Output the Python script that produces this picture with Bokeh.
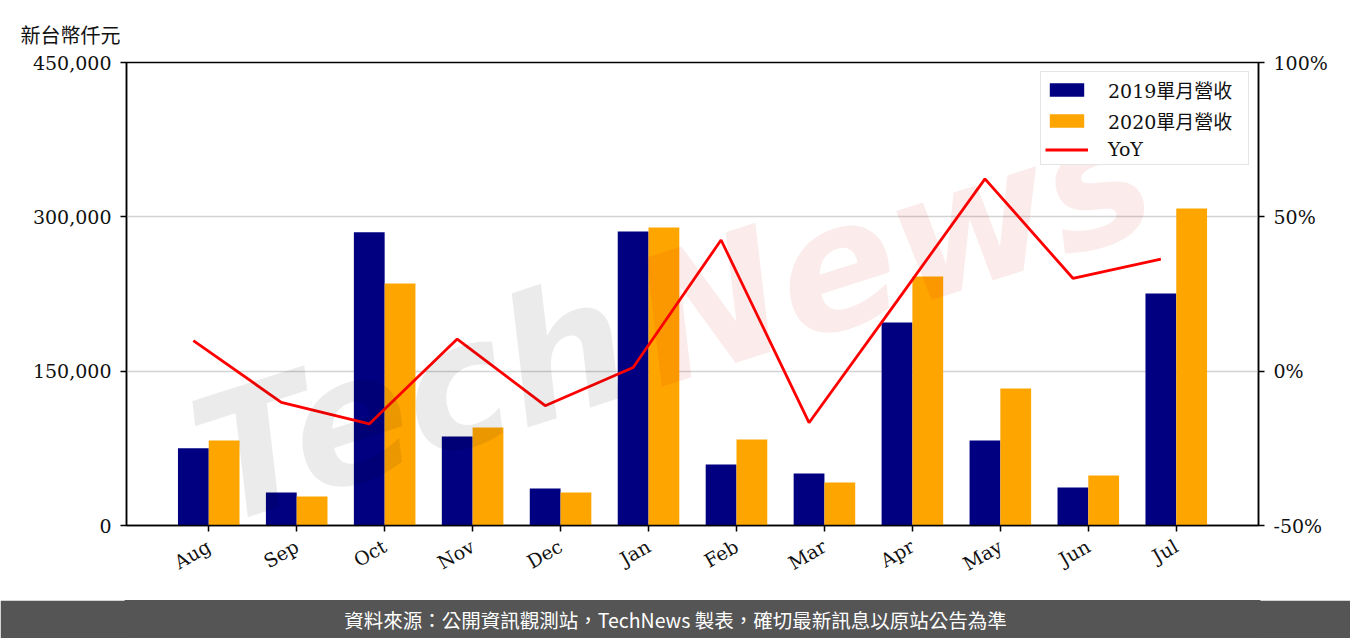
import numpy as np
from bokeh.plotting import figure
from bokeh.models import (Range1d, LinearAxis, FixedTicker, NumeralTickFormatter,
                          PrintfTickFormatter, Legend, LegendItem, ColumnDataSource)
from bokeh.layouts import column
from bokeh.core.properties import value
from bokeh.embed import file_html
from bokeh.resources import INLINE

# ---------------- data ----------------
months = ["Aug", "Sep", "Oct", "Nov", "Dec", "Jan", "Feb", "Mar", "Apr", "May", "Jun", "Jul"]
rev_2019 = [75000, 32000, 285000, 86500, 36000, 285700, 59300, 50500, 197300, 82600, 36900, 225500]
rev_2020 = [82600, 28200, 235200, 95200, 32000, 289600, 83600, 41800, 242000, 133100, 48600, 308100]
yoy_pct = [9.9, -10.1, -17.1, 10.4, -11.2, 1.2, 42.5, -16.7, 22.7, 62.3, 30.1, 36.3]
left_ticks = [0, 150000, 300000, 450000]
right_ticks = [-50, 0, 50, 100]
unit_label = "新台幣仟元"
footer_text = "資料來源：公開資訊觀測站，TechNews 製表，確切最新訊息以原站公告為準"
series_names = ["2019單月營收", "2020單月營收", "YoY"]

SERIF = "DejaVu Serif, Noto Sans CJK TC"
FS = "19px"
BAR_W = 0.35
PAGE_W = 1350
BORDER_L, BORDER_R = 126, 92
FOOTER_BG = "#555555"

idx = np.arange(len(months))
src = ColumnDataSource(dict(
    x19=idx - BAR_W / 2, x20=idx + BAR_W / 2, xl=idx - BAR_W / 2,
    r19=rev_2019, r20=rev_2020, yoy=yoy_pct))

p = figure(width=PAGE_W, height=600, output_backend="svg", toolbar_location=None,
           x_range=Range1d(-0.935, 11.935), y_range=Range1d(0, 450000),
           min_border_left=BORDER_L, min_border_right=BORDER_R, min_border_top=62, min_border_bottom=75)
p.extra_y_ranges = {"yoy": Range1d(-50, 100)}

p.title.text = unit_label
p.title.align = "left"
p.title.vertical_align = "top"
p.title.offset = -106
p.title.standoff = 25
p.title.text_font = SERIF
p.title.text_font_size = "20px"
p.title.text_font_style = "normal"
p.title.text_color = "#111111"

p.outline_line_color = "black"
p.outline_line_width = 1.5
p.xgrid.visible = False
p.ygrid.ticker = FixedTicker(ticks=left_ticks)
p.ygrid.grid_line_color = "#d3d3d3"
p.ygrid.grid_line_width = 1.5


def style_axis(ax, standoff):
    ax.axis_line_color = "black"
    ax.axis_line_width = 1.5
    ax.major_tick_line_color = "black"
    ax.major_tick_line_width = 1.5
    ax.major_tick_out = 6
    ax.major_tick_in = 0
    ax.minor_tick_line_color = None
    ax.major_label_text_font = SERIF
    ax.major_label_text_font_size = FS
    ax.major_label_text_color = "#111111"
    ax.major_label_standoff = standoff


style_axis(p.xaxis[0], 13)
style_axis(p.yaxis[0], 9)

p.yaxis.ticker = FixedTicker(ticks=left_ticks)
p.yaxis.formatter = NumeralTickFormatter(format="0,0")

p.xaxis.ticker = FixedTicker(ticks=list(idx))
p.xaxis.major_label_overrides = {int(i): m for i, m in zip(idx, months)}
p.xaxis.major_label_orientation = np.pi / 6

ry = LinearAxis(y_range_name="yoy", ticker=FixedTicker(ticks=right_ticks),
                formatter=PrintfTickFormatter(format="%d%%"))
style_axis(ry, 9)
p.add_layout(ry, "right")

# bars and line
b19 = p.vbar(x="x19", top="r19", width=BAR_W, source=src, fill_color="#000080", line_color=None)
b20 = p.vbar(x="x20", top="r20", width=BAR_W, source=src, fill_color="#FFA500", line_color=None)
ln = p.line(x="xl", y="yoy", source=src, y_range_name="yoy", line_color="#FF0000", line_width=2.8)

# watermark (decorative)
p.text(x=[-0.1], y=[55000], text=["Tech"], angle=0.31, text_font=value("DejaVu Sans"),
       text_font_style="bold italic", text_font_size="175px", text_color="#000000",
       text_alpha=0.08, text_baseline="alphabetic", text_align="left")
p.text(x=[4.9], y=[190000], text=["News"], angle=0.31, text_font=value("DejaVu Sans"),
       text_font_style="bold italic", text_font_size="175px", text_color="#c80000",
       text_alpha=0.08, text_baseline="alphabetic", text_align="left")

legend = Legend(items=[LegendItem(label=series_names[0], renderers=[b19]),
                       LegendItem(label=series_names[1], renderers=[b20]),
                       LegendItem(label=series_names[2], renderers=[ln])],
                location="top_right")
legend.label_text_font = SERIF
legend.label_text_font_size = FS
legend.label_text_color = "#111111"
legend.glyph_width = 43
legend.glyph_height = 17
legend.label_height = 18
legend.label_width = 136
legend.label_standoff = 20
legend.spacing = 4
legend.padding = 4
legend.margin = 9
legend.border_line_color = "#cccccc"
legend.border_line_width = 1.5
legend.background_fill_alpha = 1.0
p.add_layout(legend, "center")

# footer band (its frame gets aligned with the main plot's frame inside the column)
f = figure(width=PAGE_W, height=38, output_backend="svg", toolbar_location=None,
           x_range=Range1d(0, 1), y_range=Range1d(0, 1),
           min_border=0, min_border_left=0, min_border_right=0, min_border_top=0, min_border_bottom=0)
f.axis.visible = False
f.grid.visible = False
f.outline_line_color = FOOTER_BG
f.outline_line_width = 4
f.background_fill_color = FOOTER_BG
f.border_fill_color = FOOTER_BG
frame_w = PAGE_W - BORDER_L - BORDER_R
f.text(x=[(PAGE_W / 2 - BORDER_L) / frame_w], y=[0.5], text=[footer_text],
       text_font=value("Noto Sans CJK TC"),
       text_font_size="19.5px", text_color="white", text_align="center", text_baseline="middle")

layout = column(p, f, spacing=0)
open("out.html", "w").write(file_html(layout, INLINE))
